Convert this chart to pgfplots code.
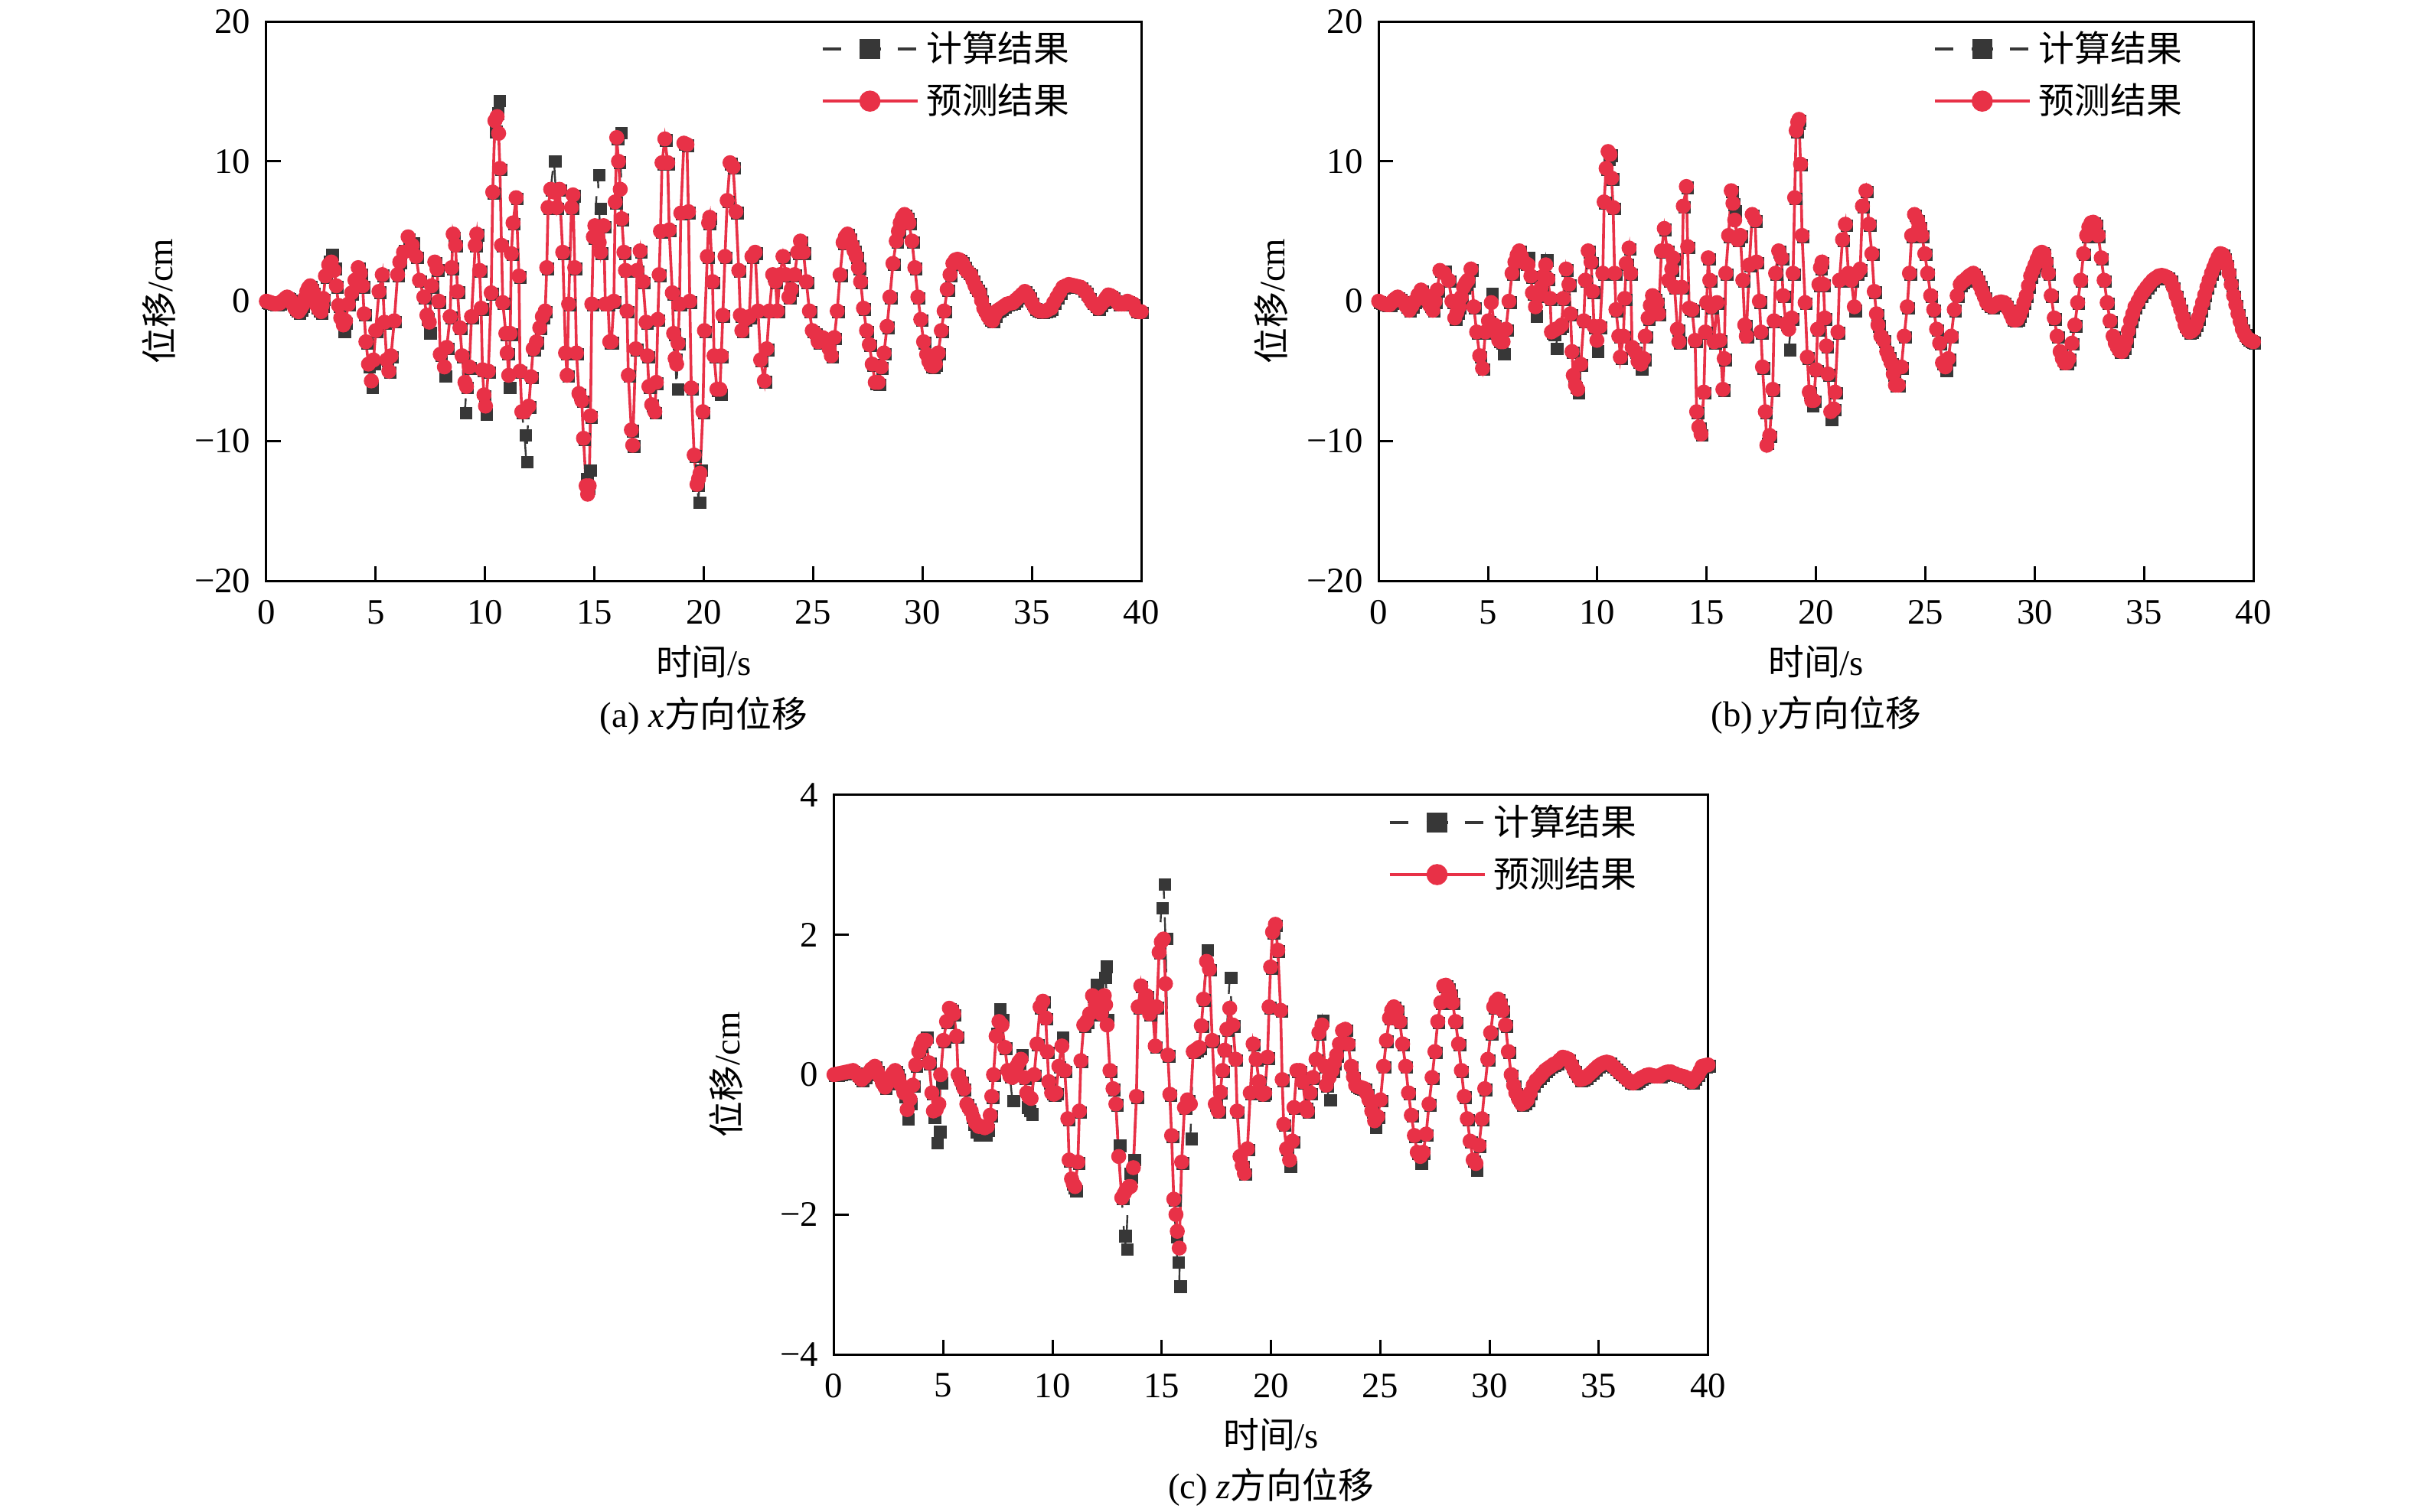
\documentclass[border=0pt]{standalone}
\usepackage{fontspec}
\setmainfont{Liberation Serif}
\newfontfamily\cjk{Noto Sans CJK SC}[Scale=1.0]
\usepackage{pgfplots}
\usepackage{pgfplotstable}
\pgfplotsset{compat=1.18}
\definecolor{calc}{RGB}{55,55,55}
\definecolor{pred}{RGB}{232,49,71}

\pgfplotstableread{
t c p
0.00 0.00 0.00
0.10 -0.05 -0.05
0.20 -0.10 -0.10
0.30 -0.15 -0.15
0.40 -0.20 -0.20
0.50 -0.18 -0.18
0.60 -0.15 -0.15
0.70 -0.02 -0.02
0.80 0.10 0.10
0.88 0.22 0.22
0.95 0.30 0.30
1.02 0.22 0.22
1.10 0.10 0.10
1.20 -0.20 -0.20
1.30 -0.50 -0.50
1.38 -0.65 -0.65
1.47 -0.80 -0.75
1.56 -0.55 -0.55
1.65 -0.30 -0.30
1.75 0.20 0.20
1.85 0.70 0.70
1.92 0.95 0.95
2.00 1.10 1.10
2.08 0.90 0.90
2.15 0.60 0.60
2.22 0.15 0.15
2.30 -0.40 -0.30
2.40 -0.60 -0.60
2.50 -0.80 -0.75
2.55 -0.30 -0.30
2.60 0.20 0.20
2.70 1.80 1.80
2.85 2.90 2.60
2.97 3.40 2.80
3.10 2.40 2.20
3.20 1.10 1.10
3.30 -0.30 -0.30
3.40 -1.30 -1.20
3.52 -2.10 -1.70
3.62 -1.50 -1.40
3.75 -0.20 -0.20
3.90 0.60 0.60
4.05 1.50 1.50
4.20 2.40 2.40
4.30 2.00 2.00
4.40 1.10 1.10
4.47 -0.90 -0.90
4.55 -2.90 -2.90
4.67 -4.60 -4.50
4.80 -6.10 -5.70
4.90 -4.40 -4.20
5.00 -2.10 -2.10
5.15 0.70 0.70
5.30 1.90 1.90
5.40 -1.50 -1.50
5.50 -4.20 -4.20
5.60 -5.00 -5.00
5.70 -3.90 -3.90
5.85 -1.40 -1.40
6.00 1.90 1.90
6.10 2.80 2.80
6.27 3.70 3.50
6.48 4.50 4.60
6.67 4.20 4.00
6.85 3.20 3.20
7.00 1.50 1.50
7.20 0.30 0.30
7.34 -1.20 -1.00
7.45 -2.20 -1.50
7.55 1.10 1.10
7.70 2.80 2.80
7.80 2.30 2.30
7.88 0.00 0.00
7.95 -3.80 -3.80
8.14 -5.30 -4.70
8.25 -3.30 -3.30
8.40 -1.10 -1.10
8.47 2.40 2.40
8.54 4.60 4.80
8.65 4.00 4.00
8.74 0.70 0.70
8.85 -1.90 -1.90
8.95 -3.90 -3.90
9.08 -7.90 -5.80
9.15 -6.10 -6.10
9.28 -4.70 -4.70
9.38 -1.10 -1.10
9.55 4.00 4.00
9.62 4.80 4.80
9.75 2.20 2.20
9.82 -0.50 -0.50
9.88 -4.90 -4.90
9.95 -6.70 -6.70
10.02 -8.00 -7.50
10.15 -5.00 -5.00
10.28 0.60 0.60
10.35 7.80 7.80
10.45 12.20 12.90
10.55 13.50 13.20
10.62 14.40 12.00
10.68 9.50 9.50
10.75 4.00 4.00
10.81 -0.10 -0.10
10.95 -2.30 -2.30
11.01 -3.70 -3.70
11.08 -6.10 -5.30
11.15 -2.30 -2.30
11.20 3.40 3.40
11.28 5.60 5.60
11.42 7.40 7.40
11.55 1.80 1.80
11.60 -5.00 -5.00
11.68 -7.90 -7.90
11.80 -9.50 -7.90
11.88 -11.40 -7.70
12.00 -7.50 -7.50
12.10 -5.40 -5.40
12.20 -3.40 -3.40
12.35 -2.90 -2.90
12.50 -1.90 -1.90
12.62 -1.10 -1.10
12.75 -0.70 -0.70
12.82 2.40 2.40
12.88 6.70 6.70
13.00 8.00 8.00
13.15 10.10 7.80
13.28 6.70 6.70
13.40 8.00 8.00
13.55 3.50 3.50
13.68 -3.70 -3.70
13.75 -5.30 -5.30
13.82 -0.20 -0.20
13.95 6.70 6.70
14.02 7.60 7.60
14.10 2.40 2.40
14.18 -3.70 -3.70
14.29 -6.60 -6.60
14.42 -7.10 -7.10
14.50 -9.80 -9.80
14.62 -12.60 -13.20
14.69 -13.30 -13.80
14.76 -12.00 -13.20
14.82 -8.20 -8.20
14.88 -0.20 -0.20
14.95 4.60 4.60
15.02 5.40 5.40
15.15 9.10 4.60
15.22 6.70 4.20
15.28 3.50 3.50
15.42 5.40 5.40
15.50 -0.20 -0.20
15.62 -0.20 -0.20
15.70 -2.90 -2.90
15.78 -2.90 -2.90
15.89 0.00 0.00
15.95 7.10 7.10
16.02 11.70 11.70
16.10 10.00 10.00
16.18 12.10 8.00
16.25 5.90 5.90
16.35 3.50 3.50
16.42 2.20 2.20
16.49 -0.70 -0.70
16.55 -5.30 -5.30
16.69 -9.20 -9.20
16.75 -10.30 -10.30
16.89 -3.40 -3.40
16.95 2.20 2.20
17.09 3.60 3.60
17.22 1.40 1.40
17.36 -1.50 -1.50
17.42 -3.90 -3.90
17.49 -6.10 -6.10
17.62 -7.40 -7.40
17.76 -7.90 -7.90
17.83 -5.80 -5.80
17.90 -1.30 -1.30
17.96 1.90 1.90
18.02 5.00 5.00
18.09 9.90 9.90
18.22 11.60 11.60
18.35 9.90 9.90
18.42 5.10 5.10
18.56 0.60 0.60
18.62 -2.30 -2.30
18.69 -4.10 -4.10
18.76 -6.20 -4.50
18.82 -3.00 -3.00
18.89 -0.20 -0.20
18.95 6.30 6.30
19.09 11.30 11.30
19.23 11.20 11.20
19.30 6.40 6.40
19.36 0.00 0.00
19.43 -6.20 -6.20
19.56 -11.00 -11.00
19.69 -13.10 -13.10
19.76 -14.30 -12.70
19.83 -12.00 -12.30
19.96 -7.90 -7.90
20.03 -2.10 -2.10
20.16 3.20 3.20
20.22 5.60 5.60
20.27 6.00 6.00
20.40 1.40 1.40
20.47 -3.90 -3.90
20.60 -6.30 -6.30
20.74 -6.60 -6.30
20.80 -3.90 -3.90
20.87 -1.00 -1.00
20.97 3.20 3.20
21.07 7.20 7.20
21.20 9.90 9.90
21.34 9.60 9.60
21.47 6.40 6.40
21.60 2.20 2.20
21.67 -1.00 -1.00
21.74 -2.10 -2.10
21.88 -1.30 -1.30
22.08 -1.10 -1.10
22.20 3.20 3.20
22.35 3.50 3.50
22.48 -0.70 -0.70
22.60 -4.20 -4.20
22.77 -5.70 -5.70
22.88 -3.40 -3.40
23.00 -0.70 -0.70
23.15 1.90 1.90
23.28 1.40 1.40
23.36 -0.70 -0.70
23.49 1.90 1.90
23.62 3.20 3.20
23.75 1.90 1.90
23.89 0.30 0.30
24.00 0.85 0.85
24.15 1.90 1.90
24.29 3.50 3.50
24.42 4.30 4.30
24.56 3.50 3.50
24.69 1.40 1.40
24.83 -0.70 -0.70
24.96 -2.10 -2.10
25.09 -2.30 -2.30
25.23 -2.90 -2.90
25.33 -2.75 -2.75
25.43 -2.60 -2.60
25.53 -2.70 -2.70
25.63 -2.90 -2.90
25.73 -3.40 -3.40
25.83 -3.90 -3.90
25.97 -2.60 -2.60
26.10 -0.70 -0.70
26.23 1.90 1.90
26.37 4.20 4.20
26.47 4.60 4.60
26.57 4.80 4.80
26.67 4.50 4.50
26.77 4.00 4.00
26.87 3.60 3.60
26.97 3.20 3.20
27.07 2.40 2.40
27.17 1.40 1.40
27.30 -0.50 -0.50
27.44 -2.10 -2.10
27.57 -3.10 -3.10
27.70 -4.50 -4.50
27.84 -5.80 -5.80
27.98 -5.90 -5.80
28.11 -4.70 -4.70
28.24 -3.70 -3.70
28.38 -1.80 -1.80
28.51 0.30 0.30
28.65 2.70 2.70
28.80 4.30 4.30
28.90 5.00 5.00
28.98 5.60 5.60
29.08 6.00 6.00
29.18 6.20 6.20
29.28 6.00 6.00
29.38 5.60 5.60
29.52 4.30 4.30
29.65 2.40 2.40
29.79 0.30 0.30
29.92 -1.30 -1.30
30.05 -2.90 -2.90
30.19 -3.80 -3.80
30.29 -4.30 -4.30
30.39 -4.60 -4.60
30.49 -4.65 -4.65
30.59 -4.50 -4.50
30.72 -3.70 -3.70
30.86 -2.10 -2.10
30.99 -0.70 -0.70
31.13 0.85 0.85
31.26 1.90 1.90
31.39 2.70 2.70
31.50 2.95 2.95
31.60 3.00 3.00
31.70 2.95 2.95
31.80 2.80 2.80
31.90 2.50 2.50
32.00 2.20 2.20
32.10 2.05 2.05
32.20 1.90 1.90
32.30 1.50 1.50
32.40 1.10 1.10
32.50 0.85 0.85
32.60 0.60 0.60
32.70 0.05 0.05
32.80 -0.50 -0.50
32.90 -0.80 -0.80
33.00 -1.10 -1.10
33.10 -1.30 -1.30
33.20 -1.40 -1.40
33.30 -1.00 -1.00
33.40 -0.70 -0.70
33.50 -0.60 -0.60
33.60 -0.50 -0.50
33.73 -0.35 -0.35
33.87 -0.20 -0.20
34.00 -0.15 -0.15
34.14 -0.10 -0.10
34.27 0.10 0.10
34.41 0.30 0.30
34.55 0.50 0.50
34.68 0.70 0.70
34.78 0.50 0.50
34.88 0.30 0.30
35.00 -0.10 -0.10
35.15 -0.50 -0.50
35.25 -0.60 -0.60
35.35 -0.70 -0.70
35.48 -0.72 -0.72
35.62 -0.70 -0.70
35.75 -0.60 -0.60
35.88 -0.50 -0.50
36.00 -0.10 -0.10
36.15 0.30 0.30
36.28 0.65 0.65
36.42 1.00 1.00
36.55 1.10 1.10
36.69 1.20 1.20
36.82 1.15 1.15
36.96 1.10 1.10
37.10 1.05 1.05
37.23 1.00 1.00
37.36 0.80 0.80
37.49 0.60 0.60
37.62 0.25 0.25
37.76 -0.10 -0.10
37.90 -0.30 -0.30
38.03 -0.50 -0.50
38.16 -0.25 -0.25
38.30 0.00 0.00
38.40 0.25 0.25
38.50 0.45 0.45
38.60 0.40 0.40
38.70 0.30 0.30
38.83 0.05 0.05
38.97 -0.20 -0.20
39.10 -0.20 -0.20
39.24 -0.20 -0.20
39.37 0.00 0.00
39.50 -0.10 -0.10
39.64 -0.20 -0.20
39.77 -0.70 -0.70
39.90 -0.75 -0.75
40.00 -0.75 -0.75
}\tabA

\pgfplotstableread{
t c p
0.00 0.00 0.00
0.12 -0.10 -0.10
0.25 -0.20 -0.20
0.38 -0.25 -0.25
0.50 -0.25 -0.25
0.60 -0.08 -0.08
0.70 0.10 0.10
0.78 0.20 0.20
0.87 0.30 0.30
0.98 0.15 0.15
1.10 0.00 0.00
1.25 -0.35 -0.35
1.40 -0.65 -0.65
1.52 -0.35 -0.35
1.65 0.00 0.00
1.80 0.45 0.45
1.94 0.80 0.80
2.07 0.50 0.50
2.20 0.10 0.10
2.34 -0.30 -0.30
2.48 -0.65 -0.65
2.58 0.00 0.00
2.68 0.80 0.80
2.80 2.20 2.20
3.00 2.20 2.00
3.20 1.50 1.50
3.35 0.00 0.00
3.48 -1.20 -1.20
3.58 -0.80 -0.80
3.68 -0.40 -0.40
3.78 0.30 0.30
3.88 1.00 1.00
3.98 1.30 1.30
4.08 1.50 1.50
4.22 2.30 2.30
4.35 -0.40 -0.40
4.48 -2.20 -2.20
4.62 -3.90 -3.90
4.75 -4.80 -4.80
4.88 -2.20 -2.20
5.02 -1.40 -1.40
5.15 0.60 -0.10
5.29 -1.70 -1.70
5.39 -2.30 -2.30
5.49 -2.80 -2.80
5.59 -2.90 -2.90
5.69 -3.70 -2.90
5.82 -2.00 -2.00
5.96 0.00 0.00
6.10 2.00 2.00
6.23 2.80 2.80
6.33 3.30 3.30
6.43 3.60 3.60
6.53 3.20 3.20
6.63 2.80 2.80
6.73 2.70 2.70
6.83 3.20 2.60
6.96 1.80 1.80
7.03 0.60 0.60
7.17 -1.00 -0.40
7.30 0.40 0.40
7.44 1.00 1.00
7.54 1.80 1.80
7.64 3.00 2.60
7.74 1.60 1.60
7.84 0.20 0.20
7.90 -2.20 -2.20
8.00 -2.30 -2.10
8.10 -3.30 -2.00
8.24 -1.90 -1.90
8.37 -1.70 -1.70
8.44 0.20 0.20
8.57 2.30 2.30
8.70 1.20 1.20
8.77 -0.90 -0.90
8.84 -3.60 -3.60
8.90 -5.30 -5.30
9.00 -6.10 -6.00
9.10 -6.50 -6.30
9.24 -4.50 -4.50
9.38 -1.40 -1.40
9.45 1.50 1.50
9.58 3.60 3.60
9.71 2.80 2.80
9.78 0.70 0.70
9.85 -1.80 -1.80
9.98 -3.50 -2.80
10.12 -1.80 -1.80
10.25 2.00 2.00
10.31 7.10 7.10
10.40 9.50 9.50
10.49 10.20 10.70
10.58 10.50 10.50
10.65 8.80 8.80
10.72 6.70 6.70
10.79 2.00 2.00
10.85 -0.60 -0.60
10.98 -2.50 -2.50
11.05 -4.00 -4.00
11.19 -2.50 -2.50
11.25 0.20 0.20
11.32 2.70 2.70
11.45 3.80 3.80
11.52 2.00 2.00
11.59 -3.30 -3.30
11.72 -3.60 -3.60
11.86 -4.30 -4.30
11.99 -4.80 -4.50
12.12 -4.10 -4.10
12.19 -2.50 -2.50
12.32 -1.20 -1.20
12.42 -0.30 -0.30
12.52 0.40 0.40
12.62 0.20 0.20
12.73 -0.10 -0.10
12.80 -0.90 -0.90
12.93 3.60 3.60
13.06 5.20 5.20
13.20 3.60 3.60
13.26 1.50 1.50
13.40 2.30 2.30
13.46 3.10 3.10
13.53 1.00 1.00
13.66 -2.00 -2.00
13.73 -2.90 -2.90
13.86 1.00 1.00
13.93 6.80 6.80
14.07 8.20 8.20
14.13 3.90 3.90
14.20 -0.50 -0.50
14.33 -0.60 -0.60
14.47 -2.80 -2.80
14.54 -7.90 -7.90
14.64 -9.00 -9.00
14.74 -9.50 -9.50
14.87 -6.50 -6.50
14.94 -2.20 -2.20
15.00 -0.10 -0.10
15.07 3.10 3.10
15.14 1.50 1.50
15.21 -0.40 -0.40
15.34 -2.90 -2.90
15.47 -0.10 -0.10
15.60 -2.80 -2.80
15.74 -6.30 -6.30
15.80 -4.10 -4.10
15.87 2.00 2.00
16.00 4.70 4.70
16.12 7.90 7.90
16.20 7.00 7.00
16.28 6.50 5.80
16.41 4.40 4.40
16.54 4.70 4.70
16.65 1.50 1.50
16.74 -1.70 -1.70
16.81 -2.50 -2.50
16.95 2.60 2.60
17.08 6.20 6.20
17.21 5.80 5.80
17.28 2.80 2.80
17.41 0.00 0.00
17.48 -2.20 -2.20
17.55 -4.70 -4.70
17.68 -7.90 -7.90
17.75 -10.10 -10.30
17.88 -9.60 -9.60
18.02 -6.30 -6.30
18.08 -1.40 -1.40
18.15 2.00 2.00
18.29 3.60 3.60
18.42 3.10 3.10
18.49 0.40 0.40
18.62 -1.60 -1.60
18.75 -3.40 -2.00
18.89 -1.20 -1.20
18.95 2.00 2.00
19.02 7.40 7.40
19.09 12.20 12.20
19.16 12.80 12.80
19.22 13.00 13.00
19.29 9.80 9.80
19.36 4.70 4.70
19.50 -0.10 -0.10
19.60 -4.00 -4.00
19.69 -6.50 -6.50
19.80 -7.40 -7.10
19.89 -7.10 -7.10
20.00 -4.90 -4.90
20.07 -2.00 -2.00
20.13 1.20 1.20
20.20 2.40 2.40
20.27 2.80 2.80
20.34 1.20 1.20
20.40 -1.20 -1.20
20.47 -3.20 -3.20
20.54 -5.20 -5.20
20.67 -8.40 -7.90
20.81 -7.70 -7.70
20.87 -6.50 -6.50
21.00 -2.20 -2.20
21.07 1.50 1.50
21.21 4.40 4.40
21.34 5.50 5.50
21.48 2.00 2.00
21.61 1.50 1.50
21.75 -0.60 -0.40
21.88 2.00 2.00
22.02 2.30 2.30
22.12 6.80 6.80
22.28 7.90 7.90
22.42 5.50 5.50
22.55 3.40 3.40
22.66 0.70 0.70
22.76 -0.90 -0.90
22.83 -1.70 -1.70
22.96 -2.50 -2.50
23.09 -2.80 -2.80
23.23 -3.60 -3.60
23.33 -4.00 -4.00
23.43 -4.40 -4.40
23.53 -5.20 -5.20
23.63 -6.00 -6.00
23.76 -6.00 -6.00
23.90 -4.70 -4.70
24.03 -2.50 -2.50
24.17 -0.40 -0.40
24.27 2.00 2.00
24.37 4.70 4.70
24.50 6.20 6.20
24.64 5.80 5.80
24.74 5.30 5.30
24.84 4.70 4.70
24.97 3.40 3.40
25.10 2.00 2.00
25.24 0.40 0.40
25.38 -0.60 -0.60
25.51 -2.00 -2.00
25.65 -3.00 -3.00
25.78 -4.40 -4.40
25.91 -4.90 -4.70
26.05 -4.10 -4.10
26.18 -2.50 -2.50
26.32 -0.60 -0.60
26.45 0.40 0.40
26.59 1.20 1.20
26.69 1.40 1.40
26.79 1.50 1.50
26.89 1.65 1.65
26.99 1.80 1.80
27.09 1.90 1.90
27.19 2.00 2.00
27.29 1.80 1.80
27.39 1.50 1.50
27.49 1.10 1.10
27.59 0.70 0.70
27.70 0.30 0.30
27.80 -0.10 -0.10
27.93 -0.30 -0.30
28.06 -0.40 -0.40
28.20 -0.25 -0.25
28.33 -0.10 -0.10
28.46 -0.05 -0.05
28.60 -0.10 -0.10
28.70 -0.30 -0.30
28.80 -0.60 -0.60
28.90 -0.95 -0.95
29.00 -1.30 -1.30
29.10 -1.35 -1.35
29.20 -1.30 -1.30
29.30 -1.00 -1.00
29.40 -0.60 -0.60
29.50 -0.10 -0.10
29.61 0.40 0.40
29.71 1.10 1.10
29.81 1.80 1.80
29.91 2.20 2.20
30.01 2.60 2.60
30.11 3.00 3.00
30.22 3.40 3.40
30.32 3.50 3.50
30.42 3.40 3.40
30.52 2.80 2.80
30.62 2.00 2.00
30.75 0.40 0.40
30.89 -1.20 -1.20
31.02 -2.50 -2.50
31.16 -3.60 -3.60
31.26 -4.10 -4.10
31.36 -4.40 -4.40
31.46 -4.40 -4.40
31.56 -4.10 -4.10
31.70 -3.00 -3.00
31.83 -1.70 -1.70
31.96 -0.10 -0.10
32.10 1.50 1.50
32.23 3.40 3.40
32.37 4.70 4.70
32.47 5.30 5.30
32.57 5.60 5.60
32.67 5.65 5.65
32.77 5.50 5.50
32.90 4.70 4.70
33.04 3.10 3.10
33.17 1.50 1.50
33.31 -0.10 -0.10
33.44 -1.40 -1.40
33.58 -2.50 -2.50
33.68 -3.00 -3.00
33.78 -3.30 -3.30
33.88 -3.55 -3.55
33.98 -3.60 -3.60
34.08 -3.30 -3.30
34.18 -2.80 -2.80
34.28 -2.10 -2.10
34.38 -1.40 -1.40
34.48 -0.90 -0.90
34.58 -0.40 -0.40
34.72 0.00 0.00
34.85 0.40 0.40
34.98 0.70 0.70
35.12 1.00 1.00
35.25 1.25 1.25
35.39 1.50 1.50
35.52 1.65 1.65
35.66 1.80 1.80
35.80 1.85 1.85
35.93 1.80 1.80
36.06 1.70 1.70
36.20 1.50 1.50
36.33 1.00 1.00
36.46 0.40 0.40
36.57 -0.10 -0.10
36.67 -0.60 -0.60
36.77 -1.15 -1.15
36.87 -1.70 -1.70
36.97 -2.00 -2.00
37.07 -2.20 -2.20
37.17 -2.15 -2.15
37.27 -2.00 -2.00
37.37 -1.65 -1.65
37.47 -1.20 -1.20
37.57 -0.65 -0.65
37.67 -0.10 -0.10
37.77 0.45 0.45
37.87 1.00 1.00
37.97 1.50 1.50
38.08 2.00 2.00
38.18 2.40 2.40
38.28 2.80 2.80
38.38 3.15 3.15
38.48 3.40 3.40
38.58 3.35 3.35
38.68 3.10 3.10
38.78 2.60 2.60
38.88 2.00 2.00
38.98 1.20 1.20
39.09 0.40 0.40
39.19 -0.25 -0.25
39.29 -0.90 -0.90
39.39 -1.45 -1.45
39.49 -2.00 -2.00
39.59 -2.35 -2.35
39.69 -2.60 -2.60
39.77 -2.70 -2.70
39.85 -2.80 -2.80
39.93 -2.85 -2.85
40.00 -2.90 -2.90
}\tabB

\pgfplotstableread{
t c p
0.00 0.00 0.00
0.15 0.01 0.01
0.30 0.02 0.02
0.45 0.03 0.03
0.60 0.04 0.04
0.75 0.05 0.05
0.87 0.06 0.06
0.97 0.03 0.03
1.07 0.00 0.00
1.17 -0.04 -0.04
1.27 -0.07 -0.07
1.41 -0.03 -0.03
1.55 0.02 0.02
1.71 0.08 0.08
1.87 0.12 0.12
1.98 0.05 0.05
2.10 -0.03 -0.03
2.22 -0.12 -0.12
2.34 -0.18 -0.18
2.46 -0.12 -0.12
2.58 -0.05 -0.05
2.69 0.02 0.02
2.80 0.06 0.06
2.88 0.01 0.01
2.95 -0.05 -0.05
3.07 -0.15 -0.15
3.20 -0.30 -0.26
3.35 -0.62 -0.50
3.48 -0.40 -0.35
3.61 -0.15 -0.15
3.74 0.14 0.14
3.88 0.33 0.33
3.98 0.42 0.42
4.08 0.49 0.49
4.21 0.55 0.49
4.35 0.17 0.17
4.48 -0.26 -0.26
4.55 -0.60 -0.52
4.68 -0.96 -0.50
4.80 -0.80 -0.42
4.88 -0.10 0.00
5.01 0.49 0.49
5.15 0.76 0.76
5.28 0.95 0.95
5.38 0.93 0.93
5.48 0.87 0.87
5.61 0.55 0.55
5.68 0.00 0.00
5.82 -0.10 -0.10
5.95 -0.20 -0.20
6.08 -0.42 -0.42
6.18 -0.48 -0.48
6.28 -0.60 -0.52
6.38 -0.70 -0.62
6.48 -0.80 -0.69
6.62 -0.85 -0.74
6.75 -0.80 -0.74
6.90 -0.85 -0.76
7.02 -0.78 -0.74
7.15 -0.58 -0.58
7.22 -0.31 -0.31
7.30 0.00 0.00
7.42 0.60 0.55
7.55 0.95 0.76
7.69 0.80 0.71
7.82 0.39 0.39
7.95 0.06 0.06
8.05 -0.02 -0.02
8.16 -0.36 -0.04
8.26 0.05 0.05
8.36 0.12 0.12
8.46 0.18 0.18
8.56 0.30 0.22
8.70 -0.04 -0.04
8.82 -0.45 -0.26
8.92 -0.50 -0.32
9.02 -0.55 -0.34
9.16 0.00 0.00
9.29 0.44 0.44
9.43 0.97 0.97
9.56 1.05 1.05
9.69 0.81 0.81
9.76 0.33 0.33
9.83 -0.10 -0.10
9.96 -0.26 -0.26
10.06 -0.28 -0.28
10.16 -0.26 -0.26
10.29 0.12 0.12
10.43 0.55 0.41
10.56 0.06 0.06
10.70 -0.63 -0.63
10.76 -1.22 -1.22
10.87 -1.55 -1.49
10.95 -1.60 -1.56
11.03 -1.65 -1.60
11.16 -1.25 -1.25
11.23 -0.52 -0.52
11.30 0.20 0.20
11.43 0.71 0.71
11.56 0.76 0.76
11.70 0.87 0.87
11.83 1.13 1.13
11.96 1.30 1.00
12.10 1.00 0.95
12.23 0.87 0.87
12.37 1.40 1.13
12.43 1.56 1.00
12.50 0.80 0.71
12.63 0.06 0.06
12.77 -0.20 -0.20
12.90 -0.42 -0.42
13.03 -1.00 -1.17
13.17 -1.76 -1.76
13.28 -2.29 -1.70
13.37 -2.48 -1.65
13.50 -1.40 -1.60
13.57 -1.45 -1.60
13.70 -1.20 -1.33
13.84 -0.31 -0.31
13.92 0.97 0.97
14.04 1.27 1.27
14.17 0.97 0.97
14.30 1.13 1.13
14.44 0.87 0.87
14.57 0.97 0.97
14.70 0.41 0.41
14.77 0.97 0.97
14.88 1.75 1.75
14.98 2.40 1.90
15.08 2.74 1.94
15.17 1.96 1.30
15.28 0.28 0.28
15.37 -0.28 -0.28
15.45 -0.87 -0.87
15.55 -1.78 -1.78
15.65 -2.30 -2.00
15.71 -2.67 -2.24
15.80 -3.01 -2.48
15.91 -1.25 -1.25
16.04 -0.47 -0.47
16.18 -0.36 -0.36
16.31 -0.90 -0.42
16.44 0.33 0.33
16.58 0.36 0.36
16.71 0.39 0.39
16.81 0.70 0.70
16.91 1.08 1.08
17.05 1.80 1.62
17.18 1.51 1.51
17.31 0.49 0.49
17.45 -0.42 -0.42
17.58 -0.52 -0.52
17.68 -0.25 -0.25
17.78 0.06 0.06
17.88 0.35 0.35
17.98 0.65 0.65
18.11 1.40 0.95
18.25 0.71 0.71
18.38 0.22 0.22
18.45 -0.52 -0.52
18.58 -1.17 -1.17
18.68 -1.30 -1.30
18.78 -1.41 -1.41
18.92 -1.06 -1.06
19.05 -0.26 -0.26
19.18 0.44 0.44
19.32 0.22 0.22
19.45 -0.10 -0.10
19.55 -0.26 -0.26
19.63 -0.28 -0.28
19.71 -0.26 -0.26
19.84 0.25 0.25
19.91 0.97 0.97
19.98 1.54 1.54
20.07 2.04 2.04
20.20 2.15 2.15
20.31 1.78 1.78
20.44 0.92 0.92
20.51 -0.07 -0.07
20.58 -0.71 -0.71
20.71 -1.06 -1.06
20.85 -1.30 -1.22
20.98 -0.95 -0.95
21.05 -0.47 -0.47
21.18 0.06 0.06
21.32 0.06 0.06
21.45 -0.10 -0.10
21.59 -0.47 -0.47
21.66 -0.52 -0.52
21.79 -0.26 -0.26
21.92 -0.04 -0.04
22.06 0.22 0.22
22.19 0.60 0.60
22.33 0.79 0.71
22.46 0.12 0.12
22.53 -0.15 -0.15
22.66 -0.35 -0.04
22.80 0.06 0.06
22.90 0.17 0.17
23.00 0.28 0.28
23.13 0.44 0.44
23.27 0.63 0.63
23.40 0.65 0.65
23.53 0.44 0.44
23.67 0.12 0.12
23.77 -0.03 -0.03
23.87 -0.15 -0.15
23.97 -0.17 -0.17
24.07 -0.18 -0.18
24.17 -0.19 -0.19
24.27 -0.20 -0.20
24.38 -0.27 -0.27
24.48 -0.36 -0.36
24.61 -0.52 -0.52
24.74 -0.74 -0.66
24.88 -0.60 -0.60
25.01 -0.36 -0.36
25.15 0.12 0.12
25.28 0.49 0.49
25.42 0.81 0.81
25.52 0.92 0.92
25.62 0.97 0.97
25.75 0.92 0.92
25.89 0.76 0.76
26.02 0.44 0.44
26.16 0.12 0.12
26.29 -0.26 -0.26
26.42 -0.58 -0.58
26.56 -0.87 -0.87
26.69 -1.11 -1.11
26.83 -1.25 -1.17
26.96 -1.11 -1.11
27.10 -0.85 -0.85
27.23 -0.42 -0.42
27.37 -0.04 -0.04
27.50 0.33 0.33
27.63 0.76 0.76
27.77 1.03 1.03
27.90 1.27 1.27
28.00 1.28 1.28
28.10 1.24 1.24
28.20 1.15 1.15
28.31 1.03 1.03
28.44 0.76 0.76
28.58 0.44 0.44
28.71 0.06 0.06
28.84 -0.31 -0.31
28.98 -0.63 -0.63
29.11 -0.95 -0.95
29.25 -1.22 -1.22
29.38 -1.35 -1.27
29.52 -1.01 -1.01
29.65 -0.63 -0.63
29.78 -0.20 -0.20
29.92 0.22 0.22
30.05 0.60 0.60
30.19 0.97 0.97
30.29 1.05 1.05
30.39 1.08 1.08
30.49 1.02 1.02
30.59 0.92 0.92
30.73 0.71 0.71
30.86 0.33 0.33
30.99 0.00 0.00
31.10 -0.15 -0.15
31.20 -0.26 -0.26
31.33 -0.35 -0.35
31.47 -0.42 -0.42
31.60 -0.40 -0.40
31.73 -0.36 -0.36
31.86 -0.26 -0.26
32.00 -0.15 -0.15
32.13 -0.08 -0.08
32.27 -0.04 -0.04
32.40 0.01 0.01
32.54 0.06 0.06
32.67 0.09 0.09
32.81 0.12 0.12
32.94 0.15 0.15
33.08 0.17 0.17
33.21 0.21 0.21
33.35 0.25 0.25
33.48 0.24 0.24
33.62 0.22 0.22
33.75 0.14 0.14
33.88 0.06 0.06
34.02 -0.01 -0.01
34.15 -0.07 -0.07
34.28 -0.06 -0.06
34.42 -0.04 -0.04
34.55 0.00 0.00
34.69 0.04 0.04
34.82 0.08 0.08
34.96 0.12 0.12
35.10 0.15 0.15
35.23 0.17 0.17
35.36 0.18 0.18
35.49 0.17 0.17
35.62 0.13 0.13
35.76 0.09 0.09
35.88 0.05 0.05
36.00 0.02 0.02
36.14 -0.02 -0.02
36.27 -0.06 -0.06
36.42 -0.10 -0.10
36.57 -0.12 -0.12
36.68 -0.10 -0.10
36.80 -0.08 -0.08
36.92 -0.05 -0.05
37.05 -0.03 -0.03
37.17 -0.01 -0.01
37.30 0.00 0.00
37.42 -0.01 -0.01
37.55 -0.02 -0.02
37.67 -0.02 -0.02
37.80 -0.02 -0.02
37.92 0.01 0.01
38.05 0.03 0.03
38.17 0.04 0.04
38.30 0.04 0.04
38.42 0.02 0.02
38.55 0.00 0.00
38.67 -0.01 -0.01
38.80 -0.02 -0.02
38.92 -0.03 -0.03
39.05 -0.05 -0.05
39.16 -0.08 -0.08
39.27 -0.10 -0.10
39.40 -0.05 -0.05
39.54 0.00 0.00
39.64 0.06 0.06
39.73 0.12 0.12
39.86 0.13 0.13
40.00 0.14 0.14
}\tabC

\pgfplotsset{
  disp/.style={
    scale only axis, height=182.8pt,
    xmin=0, xmax=40, xtick={0,5,...,40},
    tick pos=left, tick align=inside, major tick length=4.75pt,
    axis line style={line width=0.75pt, black},
    every tick/.style={line width=0.75pt, black},
    /pgf/number format/assume math mode=true,
    xticklabel style={yshift=-2.2pt},
    yticklabel style={xshift=-1.1pt},
    xlabel={{\cjk 时间}/s},
    ylabel={{\cjk 位移}/cm},
    xlabel style={at={(axis description cs:0.5,-0.1439)}, anchor=center},
    ylabel style={at={(axis description cs:-0.1232,0.5)}, anchor=center},
    clip=false,
    legend cell align=left,
    legend style={at={(0.6334,1)}, anchor=north west, yshift=-1pt,
      draw=none, fill=none, inner sep=0pt, row sep=1.4pt,
      /tikz/every odd column/.append style={column sep=0.5pt}},
  },
  calcplot/.style={calc, line width=0.6pt, dash pattern=on 6pt off 6pt,
    mark=square*, mark size=1.75pt,
    mark options={solid, fill=calc, draw=calc, xshift=0.45pt, yshift=-0.45pt},
    legend image code/.code={
      \draw[##1, line width=0.9pt, solid] (0pt,0pt) -- (6pt,0pt);
      \draw[##1, line width=0.9pt, solid] (12pt,0pt) -- (19pt,0pt);
      \draw[##1, line width=0.9pt, solid] (24.5pt,0pt) -- (30.5pt,0pt);
      \draw[mark repeat=2, mark phase=2, ##1, draw=none,
        mark size=3pt, mark options={solid, fill=calc, draw=calc}]
        plot coordinates {(0pt,0pt) (15.5pt,0pt) (31pt,0pt)};
    }},
  predplot/.style={pred, line width=0.9pt, solid,
    mark=*, mark size=2pt, mark options={solid, fill=pred, draw=pred},
    legend image code/.code={
      \draw[mark repeat=2, mark phase=2, ##1, mark size=3pt]
        plot coordinates {(0pt,0pt) (15.5pt,0pt) (31pt,0pt)};
    }},
}

\begin{document}
\fontsize{11.7}{14}\selectfont%
\begin{tikzpicture}
\useasboundingbox (0,0) rectangle (787.5pt,493.75pt);
% (a)
\begin{axis}[disp, width=285.75pt, at={(87pt,303.95pt)}, anchor=south west,
  ymin=-20, ymax=20, ytick={-20,-10,0,10,20}, yticklabels={−20,−10,0,10,20}]
\addplot[calcplot] table[x=t, y=c] {\tabA};
\addlegendentry{{\cjk 计算结果}}
\addplot[predplot] table[x=t, y=p] {\tabA};
\addlegendentry{{\cjk 预测结果}}
\node at (axis description cs:0.5,-0.2407) {(a) \textit{x}{\cjk 方向位移}};
\end{axis}
% (b)
\begin{axis}[disp, width=285.75pt, at={(450.3pt,303.95pt)}, anchor=south west,
  ymin=-20, ymax=20, ytick={-20,-10,0,10,20}, yticklabels={−20,−10,0,10,20}]
\addplot[calcplot] table[x=t, y=c] {\tabB};
\addlegendentry{{\cjk 计算结果}}
\addplot[predplot] table[x=t, y=p] {\tabB};
\addlegendentry{{\cjk 预测结果}}
\node at (axis description cs:0.5,-0.2407) {(b) \textit{y}{\cjk 方向位移}};
\end{axis}
% (c)
\begin{axis}[disp, width=285.5pt, at={(272.4pt,51.25pt)}, anchor=south west,
  ymin=-4, ymax=4, ytick={-4,-2,0,2,4}, yticklabels={−4,−2,0,2,4}]
\addplot[calcplot] table[x=t, y=c] {\tabC};
\addlegendentry{{\cjk 计算结果}}
\addplot[predplot] table[x=t, y=p] {\tabC};
\addlegendentry{{\cjk 预测结果}}
\node at (axis description cs:0.5,-0.238) {(c) \textit{z}{\cjk 方向位移}};
\end{axis}
\end{tikzpicture}
\end{document}
